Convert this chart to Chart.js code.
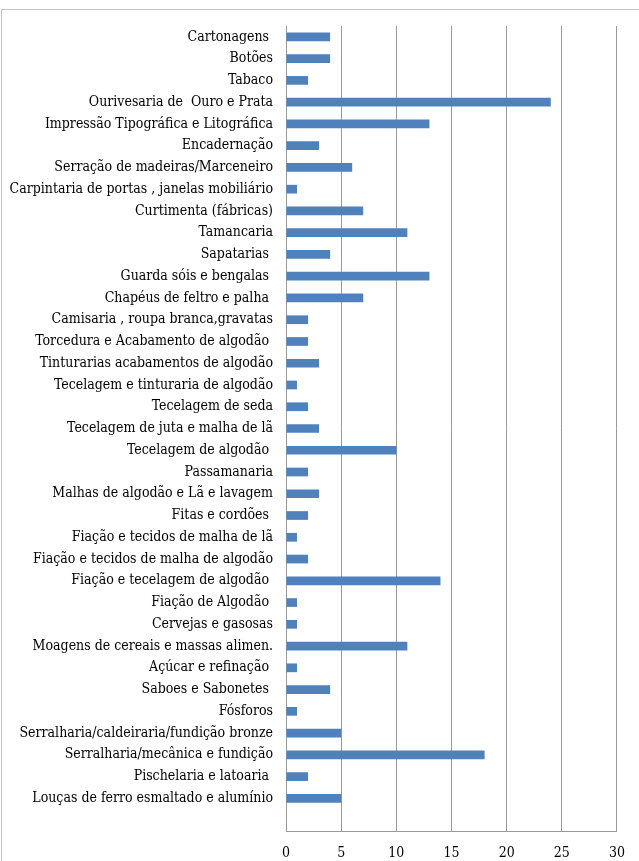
<!DOCTYPE html>
<html>
<head>
<meta charset="utf-8">
<script src="https://cdn.jsdelivr.net/npm/chart.js@4.4.1/dist/chart.umd.min.js"></script>
<style>
  html, body { margin: 0; padding: 0; background: #fff; }
  #frame { position: absolute; left: 1px; top: 9px; width: 700px; height: 900px; border-left: 1px solid #c4c4c4; border-top: 1px solid #c4c4c4; }
  #wrap { position: absolute; left: 0; top: 0; width: 639px; height: 861px; }
</style>
</head>
<body>
<div id="frame"></div>
<div id="wrap"><canvas id="chart" width="639" height="861"></canvas></div>
<script>
// categories, top to bottom (the last one is the empty row of the source sheet)
const categories = [
  'Cartonagens ',
  'Botões',
  'Tabaco',
  'Ourivesaria de  Ouro e Prata',
  'Impressão Tipográfica e Litográfica',
  'Encadernação',
  'Serração de madeiras/Marceneiro',
  'Carpintaria de portas , janelas mobiliário',
  'Curtimenta (fábricas)',
  'Tamancaria',
  'Sapatarias ',
  'Guarda sóis e bengalas ',
  'Chapéus de feltro e palha ',
  'Camisaria , roupa branca,gravatas',
  'Torcedura e Acabamento de algodão ',
  'Tinturarias acabamentos de algodão',
  'Tecelagem e tinturaria de algodão',
  'Tecelagem de seda',
  'Tecelagem de juta e malha de lã',
  'Tecelagem de algodão ',
  'Passamanaria',
  'Malhas de algodão e Lã e lavagem',
  'Fitas e cordões ',
  'Fiação e tecidos de malha de lã',
  'Fiação e tecidos de malha de algodão',
  'Fiação e tecelagem de algodão ',
  'Fiação de Algodão ',
  'Cervejas e gasosas',
  'Moagens de cereais e massas alimen.',
  'Açúcar e refinação ',
  'Saboes e Sabonetes ',
  'Fósforos',
  'Serralharia/caldeiraria/fundição bronze',
  'Serralharia/mecânica e fundição',
  'Pischelaria e latoaria ',
  'Louças de ferro esmaltado e alumínio',
  ''
];

const counts = [
  4, 4, 2, 24, 13, 3, 6, 1, 7, 11, 4, 13, 7, 2, 2, 3, 1, 2, 3, 10,
  2, 3, 2, 1, 2, 14, 1, 1, 11, 1, 4, 1, 5, 18, 2, 5, null
];

const xTicks = [0, 5, 10, 15, 20, 25, 30];

const FONT = "'DejaVu Serif Condensed', 'DejaVu Serif', serif";

new Chart(document.getElementById('chart').getContext('2d'), {
  type: 'bar',
  data: {
    labels: categories,
    datasets: [{
      data: counts,
      backgroundColor: '#4F81BD',
      borderWidth: 0,
      categoryPercentage: 1,
      barPercentage: 0.4,
    }],
  },
  options: {
    indexAxis: 'y',
    responsive: false,
    animation: false,
    layout: { padding: { top: 26, right: 20, left: 0, bottom: 0 } },
    plugins: { legend: { display: false }, tooltip: { enabled: false } },
    scales: {
      x: {
        min: 0,
        max: 30,
        afterBuildTicks: (s) => { s.ticks = xTicks.map((v) => ({ value: v })); },
        afterFit: (s) => { s.height = 30; },
        grid: { color: '#999999', lineWidth: 1, drawTicks: false },
        border: { color: '#999999' },
        ticks: { color: '#000', padding: 14, font: { family: FONT, size: 14 } },
      },
      y: {
        afterFit: (s) => { s.width = 286; },
        grid: { display: false, drawTicks: false },
        border: { color: '#999999' },
        ticks: { color: '#000', padding: 13, autoSkip: false, font: { family: FONT, size: 14 } },
      },
    },
  },
});
</script>
</body>
</html>
